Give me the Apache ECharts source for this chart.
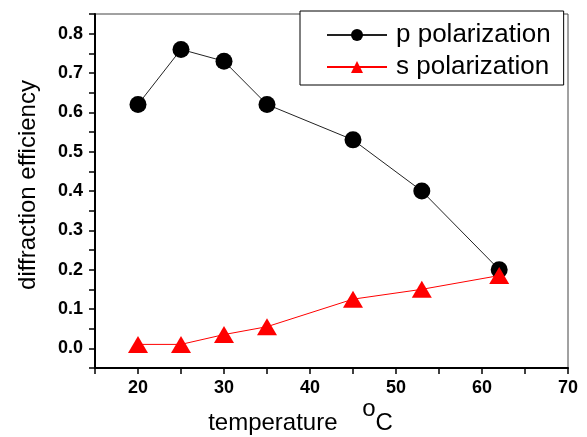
<!DOCTYPE html>
<html>
<head>
<meta charset="utf-8">
<script src="https://cdn.jsdelivr.net/npm/echarts@6/dist/echarts.min.js"></script>
<style>
  html, body { margin: 0; padding: 0; background: #fff; }
  #main { width: 587px; height: 437px; }
</style>
</head>
<body>
<div id="main"></div>
<script>
// data
var pTemps = [20, 25, 30, 35, 45, 53, 62];
var pValues = [0.62, 0.76, 0.73, 0.62, 0.53, 0.40, 0.20];
var sTemps = [20, 25, 30, 35, 45, 53, 62];
var sValues = [0.01, 0.01, 0.035, 0.055, 0.125, 0.15, 0.185];
var seriesNames = ['p polarization', 's polarization'];

function pairs(xs, ys) {
    var out = [];
    for (var i = 0; i < xs.length; i++) {
        out.push([xs[i], ys[i]]);
    }
    return out;
}

var myChart = echarts.init(document.getElementById('main'));

var fontName = 'Liberation Sans, Arial, sans-serif';
var tickFont = {
    fontFamily: fontName,
    fontWeight: 'bold',
    fontSize: 18,
    color: '#000'
};

var option = {
    animation: false,
    grid: {
        left: 95, right: 19, top: 14, bottom: 69,
        containLabel: false,
        outerBoundsMode: 'none',
        show: true,
        borderColor: '#444',
        borderWidth: 1
    },
    legend: {
        data: seriesNames,
        orient: 'vertical',
        left: 300,
        top: 11,
        backgroundColor: '#fff',
        borderColor: '#000',
        borderWidth: 1,
        padding: [11, 13, 5, 26],
        itemWidth: 60,
        itemHeight: 15,
        itemGap: 6,
        textStyle: {
            fontFamily: fontName,
            fontSize: 26,
            color: '#000',
            padding: [0, 0, 0, 4]
        }
    },
    xAxis: {
        type: 'value',
        min: 15,
        max: 70,
        interval: 5,
        name: '{a|temperature }{b|o}{a|C}',
        nameLocation: 'middle',
        nameGap: 29,
        nameMoveOverlap: false,
        nameTextStyle: {
            padding: [0, 62, 0, 0],
            rich: {
                a: { fontFamily: fontName, fontSize: 24, color: '#000' },
                b: { fontFamily: fontName, fontSize: 24, color: '#000', padding: [0, 0, 28, 18] }
            }
        },
        splitLine: { show: false },
        axisLine: { onZero: false, lineStyle: { color: '#000', width: 2 } },
        axisTick: { length: 6, lineStyle: { color: '#000', width: 1.5 } },
        axisLabel: Object.assign({
            margin: 11,
            formatter: function (v) { return (v % 10 === 0) ? String(v) : ''; }
        }, tickFont)
    },
    yAxis: {
        type: 'value',
        min: -0.05,
        max: 0.85,
        interval: 0.05,
        name: 'diffraction efficiency',
        nameLocation: 'middle',
        nameGap: 55,
        nameMoveOverlap: false,
        nameTextStyle: {
            fontFamily: fontName,
            fontSize: 24,
            color: '#000',
            padding: [0, 0, 0, 12]
        },
        splitLine: { show: false },
        axisLine: { onZero: false, lineStyle: { color: '#000', width: 2 } },
        axisTick: { length: 6, lineStyle: { color: '#000', width: 1.5 } },
        axisLabel: Object.assign({
            margin: 12,
            formatter: function (v) {
                var k = Math.round(v * 100);
                if (k < 0 || k % 10 !== 0) return '';
                return (k / 100).toFixed(1);
            }
        }, tickFont)
    },
    series: [
        {
            name: seriesNames[0],
            type: 'line',
            data: pairs(pTemps, pValues),
            symbol: 'circle',
            symbolSize: 17,
            itemStyle: { color: '#000' },
            lineStyle: { color: '#222', width: 1 },
            z: 2
        },
        {
            name: seriesNames[1],
            type: 'line',
            data: pairs(sTemps, sValues),
            symbol: 'triangle',
            symbolSize: [20, 17],
            itemStyle: { color: '#ff0000' },
            lineStyle: { color: '#ff0000', width: 1 },
            z: 3
        }
    ]
};

myChart.setOption(option);
</script>
</body>
</html>
